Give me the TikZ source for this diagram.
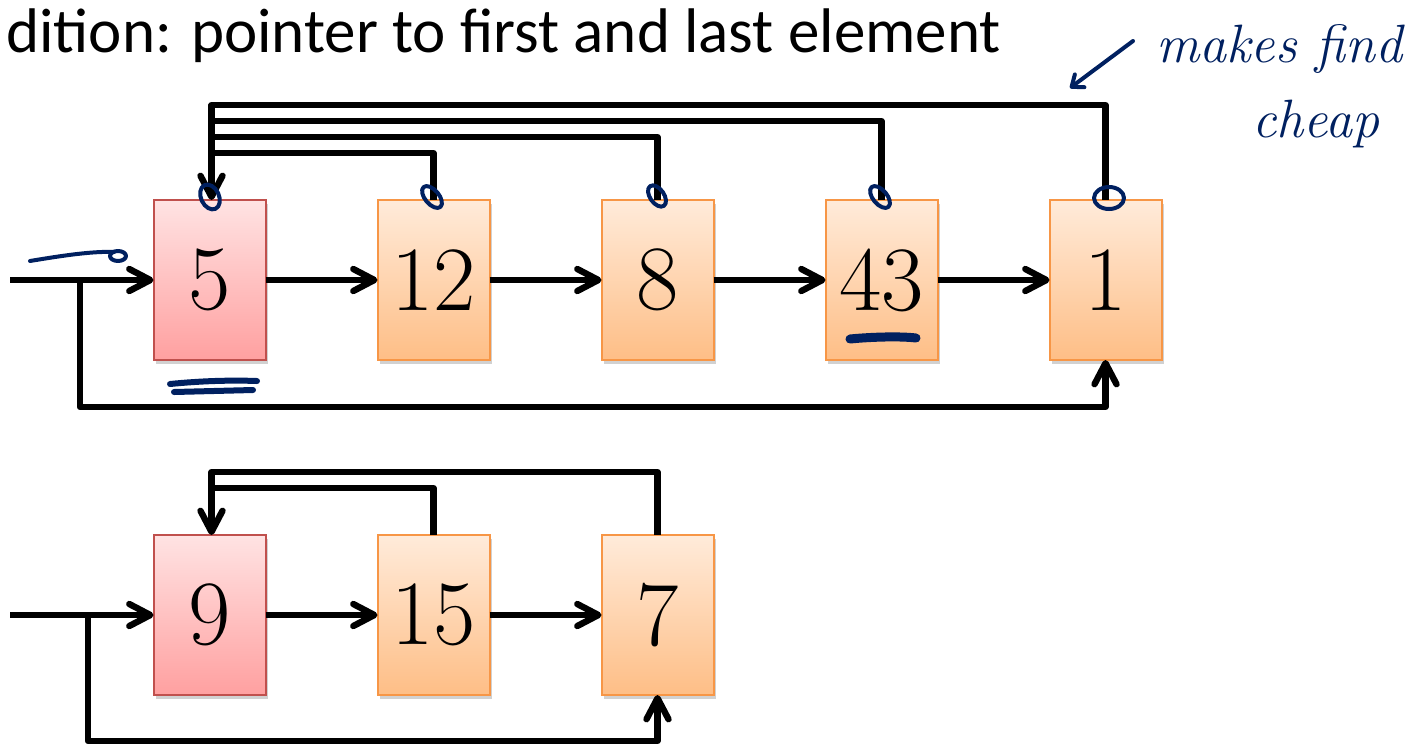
\documentclass[tikz,border=0pt]{standalone}
\usepackage{fontspec}
\usetikzlibrary{arrows.meta,positioning,calc,shadows}
\newfontfamily\titlefont{Carlito}
\definecolor{inkblue}{RGB}{0,32,96}
\definecolor{headtop}{RGB}{255,227,227}
\definecolor{headbot}{RGB}{255,160,160}
\definecolor{headline}{RGB}{192,80,77}
\definecolor{celltop}{RGB}{255,235,218}
\definecolor{cellbot}{RGB}{254,190,134}
\definecolor{cellline}{RGB}{247,150,70}

\begin{document}
\begin{tikzpicture}[x=0.5pt, y=-0.5pt, >={Straight Barb[length=10.5pt,width=11pt,round]},
 node distance=56pt, every node/.style={inner sep=0pt},
 cell/.style={draw=cellline, line width=1pt, outer sep=0pt, top color=celltop, bottom color=cellbot,
   minimum width=56pt, minimum height=80pt, font=\fontsize{46}{50}\selectfont,
   drop shadow={shadow xshift=1.2pt, shadow yshift=-2pt, opacity=0.18, fill=black}},
 headcell/.style={cell, draw=headline, top color=headtop, bottom color=headbot},
 link/.style={line width=3.2pt, line join=round},
 ink/.style={draw=inkblue, line width=2pt, line cap=round, line join=round},
 scrawl/.style={text=inkblue, font=\fontsize{27}{30}\selectfont\itshape}]
\useasboundingbox (0,0) rectangle (1416,745);

\node[anchor=base west, font=\titlefont\fontsize{31.5}{36}\selectfont] (title) at (6,52)
  {dition: pointer to first and last element};

% list with head and tail pointer
\node[headcell] (n5) at (209.5,280) {5};
\node[cell, right=of n5] (n12) {12};
\node[cell, right=of n12] (n8) {8};
\node[cell, right=of n8] (n43) {43};
\node[cell, right=of n43] (n1) {1};

% short list
\node[headcell] (n9) at (209.5,615) {9};
\node[cell, right=of n9] (n15) {15};
\node[cell, right=of n15] (n7) {7};

\coordinate (in1) at (10,280);
\coordinate (fork1) at (80,280);
\coordinate (in2) at (10,615);
\coordinate (fork2) at (88,615);

\foreach \a/\b in {n5/n12, n12/n8, n8/n43, n43/n1, n9/n15, n15/n7}
  \draw[link,->] (\a) -- (\b);

\draw[link,->] (in1) -- (n5);
\draw[link,->] (fork1) -- ++(0,127) -| (n1.south);
\draw[link,->] (in2) -- (n9);
\draw[link,->] (fork2) -- ++(0,126) -| (n7.south);

% back pointers to the head
\foreach \n/\h in {n12/47, n8/63, n43/79} {
  \coordinate (rail\n) at ($(n5.north)+(2,-\h)$);
  \draw[link] (\n.north) |- (rail\n);
}
\coordinate (railn1) at ($(n5.north)+(2,-95)$);
\draw[link,->] (n1.north) |- (railn1) -- ++(0,95);

\coordinate (railn15) at ($(n9.north)+(2,-47)$);
\coordinate (railn7) at ($(n9.north)+(2,-63)$);
\draw[link] (n15.north) |- (railn15);
\draw[link,->] (n7.north) |- (railn7) -- ++(0,63);

% pen notes
\node[scrawl, anchor=base west] (note) at (1156,62) {makes find};
\node[scrawl, anchor=base west] (note2) at (1252,137) {cheap};
\coordinate (hint) at (1070,88);
\draw[ink, -{Straight Barb[length=5pt,width=8pt,round]}] ([shift={(-23,-21)}]note.base west) -- (hint);

\draw[ink, rotate around={25:(210,197)}] (210,197) ellipse [x radius=4.5pt, y radius=6.5pt];
\draw[ink, rotate around={40:(432,197)}] (432,197) ellipse [x radius=3.5pt, y radius=6.5pt];
\draw[ink, rotate around={35:(657,196)}] (657,196) ellipse [x radius=3.5pt, y radius=6pt];
\draw[ink, rotate around={40:(880,197)}] (880,197) ellipse [x radius=3.5pt, y radius=6.5pt];
\draw[ink] (1109,198) ellipse [x radius=7.5pt, y radius=5.5pt];

\draw[ink] (30,261) .. controls (60,256) and (92,251) .. (114,252);
\draw[ink] (118,256) ellipse [x radius=4pt, y radius=2.5pt];

\draw[ink, line width=3pt] (170,384) .. controls (200,381) and (230,380) .. (257,381);
\draw[ink, line width=3pt] (174,392) -- (253,390);
\draw[ink, line width=4.5pt] (850,339) .. controls (870,337) and (900,336) .. (916,338);
\end{tikzpicture}
\end{document}
